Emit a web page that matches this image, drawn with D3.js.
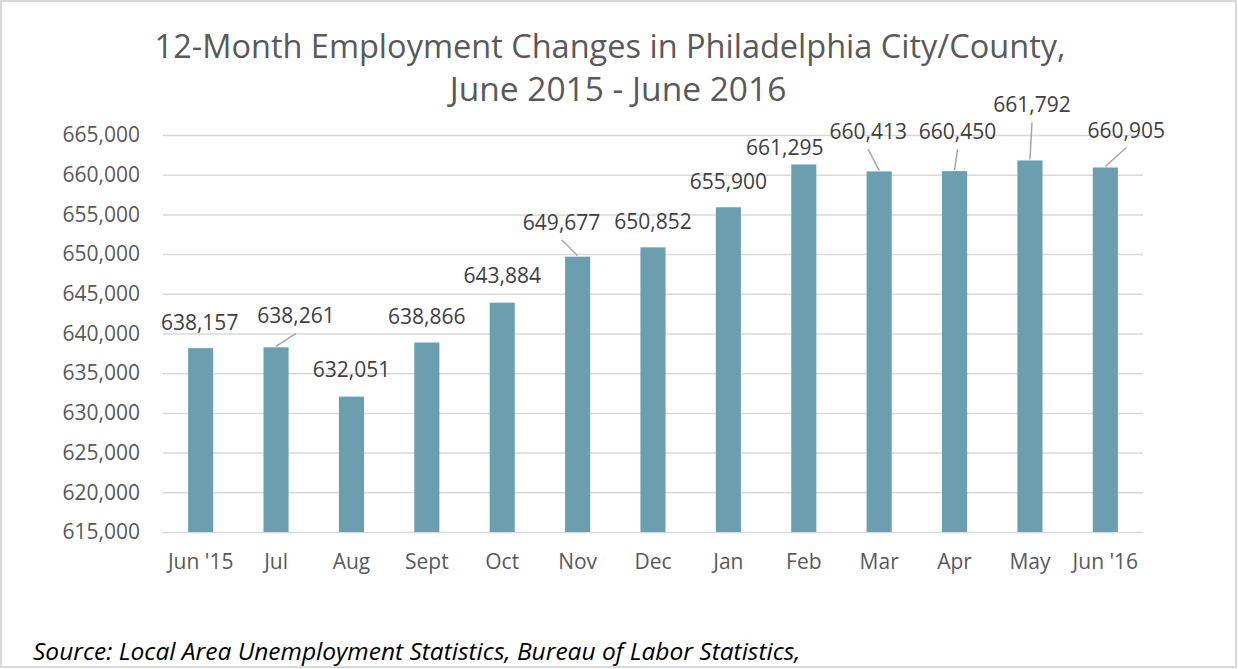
<!DOCTYPE html>
<html lang="en">
<head>
    <meta charset="UTF-8">
    <title>Philadelphia Employment</title>
    <script src="https://cdn.jsdelivr.net/npm/d3@7"></script>
    <style>
        html, body {
            margin: 0;
            background: white;
        }
        svg text {
            font-family: "Open Sans", sans-serif;
            fill: #595959;
        }
        .grid line, .grid path {
            stroke: #d9d9d9;
            stroke-width: 1.5px;
        }
    </style>
</head>
<body>
    <div id="vis"></div>
    <script>

        // values
        var months = ["Jun '15", "Jul", "Aug", "Sept", "Oct", "Nov", "Dec", "Jan", "Feb", "Mar", "Apr", "May", "Jun '16"];
        var employment = [638157, 638261, 632051, 638866, 643884, 649677, 650852, 655900, 661295, 660413, 660450, 661792, 660905];
        var yTicks = [615000, 620000, 625000, 630000, 635000, 640000, 645000, 650000, 655000, 660000, 665000];

        // label nudges [dx from bar centre, dy from bar top], and which get a leader line
        var labelNudge = [[-1, -18], [20, -24], [0, -20], [0, -19], [0, -20], [-16, -27], [0, -18],
                          [0, -18], [-19, -9], [-11, -32], [3, -32], [2, -48], [21, -30]];
        var hasLeader = [0, 1, 0, 0, 0, 1, 0, 0, 0, 1, 1, 1, 1];

        var width = 1238,
            height = 669;

        var margin = {top: 135, left: 163, right: 95, bottom: 137};

        var svg = d3.select('#vis')
                    .append('svg')
                        .attr('width', width)
                        .attr('height', height);

        // frame
        svg.append('rect')
            .attr('x', 1)
            .attr('y', 1)
            .attr('width', 1235)
            .attr('height', 666)
            .attr('fill', 'white')
            .attr('stroke', '#d9d9d9')
            .attr('stroke-width', 2);

        var x = d3.scaleBand()
                    .domain(months)
                    .range([margin.left, width - margin.right])
                    .paddingInner(0.667)
                    .paddingOuter(0.333);

        var y = d3.scaleLinear()
                    .domain([615000, 665000])
                    .range([height - margin.bottom, margin.top]);

        var yAxis = d3.axisLeft(y)
                    .tickValues(yTicks)
                    .tickFormat(d3.format(','))
                    .tickSize(-(width - margin.left - margin.right))
                    .tickPadding(23);

        var gy = svg.append('g')
            .attr('class', 'grid')
            .attr('transform', 'translate(' + margin.left + ',0)')
            .call(yAxis);
        gy.select('.domain').remove();
        gy.selectAll('text')
            .style('font-size', '21px');

        var xAxis = d3.axisBottom(x)
                    .tickSize(0)
                    .tickPadding(22);

        var gx = svg.append('g')
            .attr('transform', 'translate(0,' + (height - margin.bottom) + ')')
            .call(xAxis);
        gx.select('.domain').remove();
        gx.selectAll('text')
            .style('font-size', '21px');

        // bars
        svg.selectAll('.bar')
            .data(employment)
            .enter()
            .append('rect')
                .attr('class', 'bar')
                .attr('x', function(d, i){ return x(months[i]); })
                .attr('y', function(d){ return y(d); })
                .attr('width', x.bandwidth())
                .attr('height', function(d){ return y(615000) - y(d); })
                .attr('fill', '#6b9fb0');

        // leader lines
        svg.selectAll('.leader')
            .data(employment.filter(function(d, i){ return hasLeader[i]; }))
            .enter()
            .append('line')
                .attr('class', 'leader')
                .attr('x1', function(d){ var i = employment.indexOf(d); return x(months[i]) + x.bandwidth() / 2 + labelNudge[i][0]; })
                .attr('y1', function(d){ var i = employment.indexOf(d); return y(d) + labelNudge[i][1] + 10; })
                .attr('x2', function(d){ var i = employment.indexOf(d); return x(months[i]) + x.bandwidth() / 2; })
                .attr('y2', function(d){ return y(d) - 1; })
                .attr('stroke', '#a6a6a6')
                .attr('stroke-width', 1.5);

        // data labels
        svg.selectAll('.label')
            .data(employment)
            .enter()
            .append('text')
                .attr('class', 'label')
                .attr('x', function(d, i){ return x(months[i]) + x.bandwidth() / 2 + labelNudge[i][0]; })
                .attr('y', function(d, i){ return y(d) + labelNudge[i][1]; })
                .attr('text-anchor', 'middle')
                .style('font-size', '21px')
                .style('fill', '#404040')
                .text(d3.format(','));

        // title
        svg.append('text')
            .attr('x', 610)
            .attr('y', 58)
            .attr('text-anchor', 'middle')
            .style('font-size', '32.5px')
            .text('12-Month Employment Changes in Philadelphia City/County,');

        svg.append('text')
            .attr('x', 618)
            .attr('y', 101)
            .attr('text-anchor', 'middle')
            .style('font-size', '33.5px')
            .text('June 2015 - June 2016');

        // source
        svg.append('text')
            .attr('x', 33)
            .attr('y', 660)
            .style('font-size', '24.5px')
            .style('font-style', 'italic')
            .style('fill', 'black')
            .text('Source: Local Area Unemployment Statistics, Bureau of Labor Statistics,');

    </script>
</body>
</html>
